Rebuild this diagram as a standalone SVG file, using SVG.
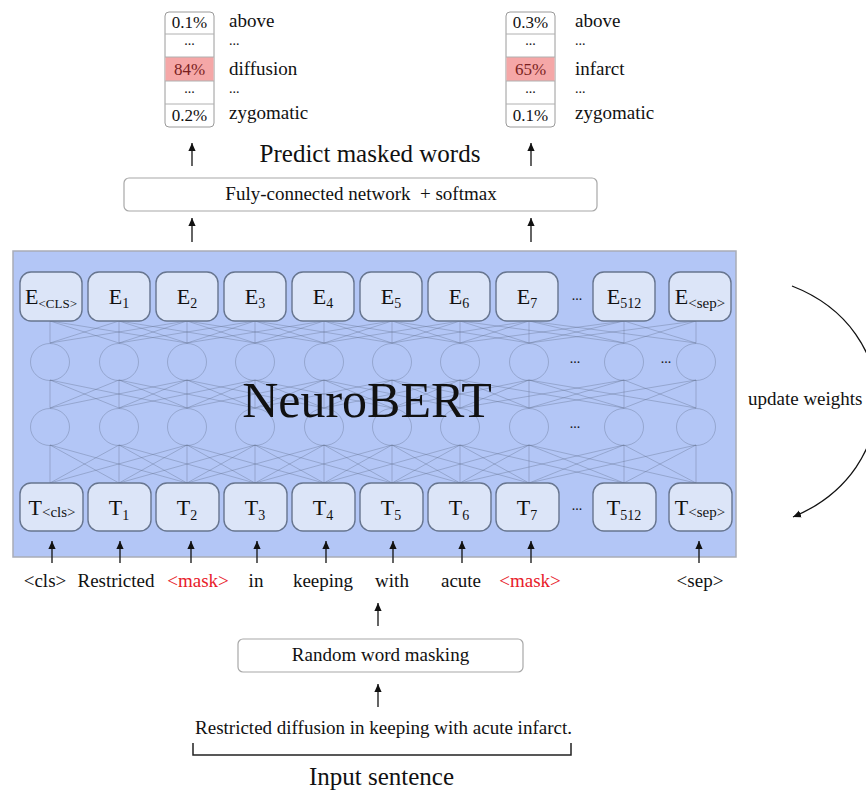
<svg xmlns="http://www.w3.org/2000/svg" width="866" height="791" viewBox="0 0 866 791">
<defs>
<marker id="ah" viewBox="0 0 10 10" refX="10" refY="5" markerWidth="8" markerHeight="8" orient="auto" markerUnits="userSpaceOnUse"><path d="M0,0.5 L10,5 L0,9.5 z" fill="#111"/></marker>
<style>
text{font-family:"Liberation Serif","Times New Roman",serif;fill:#111}
.w{font-size:19px}
.p{font-size:17px;text-anchor:middle}
.c{text-anchor:middle}
.box{fill:#dce5f8;stroke:#67758f;stroke-width:1.4}
.lbl{font-size:22px;text-anchor:middle}
.sub{font-size:14px}
.net{fill:none;stroke:#5d6a88;stroke-opacity:0.35;stroke-width:1}
.cir{fill:none;stroke:#5d6a88;stroke-opacity:0.35;stroke-width:1}
.arr{stroke:#111;stroke-width:1.3;fill:none;marker-end:url(#ah)}
.tbl{fill:#fff;stroke:#9a9a9a;stroke-width:1}
.sep{stroke:#b0b0b0;stroke-width:1}
.red{fill:#e8202a}
.dots{font-size:14px;text-anchor:middle}
.td{font-size:14px}
</style>
</defs>
<rect width="866" height="791" fill="#fff"/>

<!-- NeuroBERT block -->
<g id="neurobert">
<rect x="13" y="251" width="723" height="306" fill="#b3c6f6" stroke="#a9acb6" stroke-width="1.5"/>
<g id="network-lines">
<path class="net" d="M50 321L50 343M50 321L119 343M50 321L187 343M119 321L50 343M119 321L119 343M119 321L187 343M119 321L255 343M187 321L50 343M187 321L119 343M187 321L187 343M187 321L255 343M187 321L324 343M255 321L119 343M255 321L187 343M255 321L255 343M255 321L324 343M255 321L392 343M324 321L187 343M324 321L255 343M324 321L324 343M324 321L392 343M324 321L460 343M392 321L255 343M392 321L324 343M392 321L392 343M392 321L460 343M392 321L529 343M460 321L324 343M460 321L392 343M460 321L460 343M460 321L529 343M460 321L624 343M529 321L392 343M529 321L460 343M529 321L529 343M529 321L624 343M529 321L696 343M624 321L460 343M624 321L529 343M624 321L624 343M624 321L696 343M696 321L529 343M696 321L624 343M696 321L696 343"/>
<path class="net" d="M50 380L50 408M50 380L119 408M50 380L187 408M119 380L50 408M119 380L119 408M119 380L187 408M119 380L255 408M187 380L50 408M187 380L119 408M187 380L187 408M187 380L255 408M187 380L324 408M255 380L119 408M255 380L187 408M255 380L255 408M255 380L324 408M255 380L392 408M324 380L187 408M324 380L255 408M324 380L324 408M324 380L392 408M324 380L460 408M392 380L255 408M392 380L324 408M392 380L392 408M392 380L460 408M392 380L529 408M460 380L324 408M460 380L392 408M460 380L460 408M460 380L529 408M460 380L624 408M529 380L392 408M529 380L460 408M529 380L529 408M529 380L624 408M529 380L696 408M624 380L460 408M624 380L529 408M624 380L624 408M624 380L696 408M696 380L529 408M696 380L624 408M696 380L696 408"/>
<path class="net" d="M50 445L50 483M50 445L119 483M50 445L187 483M119 445L50 483M119 445L119 483M119 445L187 483M119 445L255 483M187 445L50 483M187 445L119 483M187 445L187 483M187 445L255 483M187 445L324 483M255 445L119 483M255 445L187 483M255 445L255 483M255 445L324 483M255 445L392 483M324 445L187 483M324 445L255 483M324 445L324 483M324 445L392 483M324 445L460 483M392 445L255 483M392 445L324 483M392 445L392 483M392 445L460 483M392 445L529 483M460 445L324 483M460 445L392 483M460 445L460 483M460 445L529 483M460 445L624 483M529 445L392 483M529 445L460 483M529 445L529 483M529 445L624 483M529 445L696 483M624 445L460 483M624 445L529 483M624 445L624 483M624 445L696 483M696 445L529 483M696 445L624 483M696 445L696 483"/>
</g>
<g id="hidden-layer-1">
<ellipse class="cir" cx="50" cy="362" rx="19.5" ry="18.5"/>
<ellipse class="cir" cx="119" cy="362" rx="19.5" ry="18.5"/>
<ellipse class="cir" cx="187" cy="362" rx="19.5" ry="18.5"/>
<ellipse class="cir" cx="255" cy="362" rx="19.5" ry="18.5"/>
<ellipse class="cir" cx="324" cy="362" rx="19.5" ry="18.5"/>
<ellipse class="cir" cx="392" cy="362" rx="19.5" ry="18.5"/>
<ellipse class="cir" cx="460" cy="362" rx="19.5" ry="18.5"/>
<ellipse class="cir" cx="529" cy="362" rx="19.5" ry="18.5"/>
<ellipse class="cir" cx="624" cy="362" rx="19.5" ry="18.5"/>
<ellipse class="cir" cx="696" cy="362" rx="19.5" ry="18.5"/>
<text class="dots" x="575" y="363">...</text>
<text class="dots" x="666" y="363">...</text>
</g>
<g id="hidden-layer-2">
<ellipse class="cir" cx="50" cy="427" rx="19.5" ry="18.5"/>
<ellipse class="cir" cx="119" cy="427" rx="19.5" ry="18.5"/>
<ellipse class="cir" cx="187" cy="427" rx="19.5" ry="18.5"/>
<ellipse class="cir" cx="255" cy="427" rx="19.5" ry="18.5"/>
<ellipse class="cir" cx="324" cy="427" rx="19.5" ry="18.5"/>
<ellipse class="cir" cx="392" cy="427" rx="19.5" ry="18.5"/>
<ellipse class="cir" cx="460" cy="427" rx="19.5" ry="18.5"/>
<ellipse class="cir" cx="529" cy="427" rx="19.5" ry="18.5"/>
<ellipse class="cir" cx="624" cy="427" rx="19.5" ry="18.5"/>
<ellipse class="cir" cx="696" cy="427" rx="19.5" ry="18.5"/>
<text class="dots" x="575" y="428">...</text>
</g>
<text x="367" y="417" font-size="50" text-anchor="middle">NeuroBERT</text>
</g>

<!-- E row -->
<g id="E_cls"><rect class="box" x="20" y="272" width="62" height="49" rx="11"/><text class="lbl" x="51" y="304">E<tspan font-size="13" dy="4">&lt;CLS&gt;</tspan></text></g>
<g id="E_1"><rect class="box" x="88" y="272" width="62" height="49" rx="11"/><text class="lbl" x="119" y="304">E<tspan class="sub" dy="4">1</tspan></text></g>
<g id="E_2"><rect class="box" x="156" y="272" width="62" height="49" rx="11"/><text class="lbl" x="187" y="304">E<tspan class="sub" dy="4">2</tspan></text></g>
<g id="E_3"><rect class="box" x="224" y="272" width="62" height="49" rx="11"/><text class="lbl" x="255" y="304">E<tspan class="sub" dy="4">3</tspan></text></g>
<g id="E_4"><rect class="box" x="292" y="272" width="62" height="49" rx="11"/><text class="lbl" x="323" y="304">E<tspan class="sub" dy="4">4</tspan></text></g>
<g id="E_5"><rect class="box" x="360" y="272" width="62" height="49" rx="11"/><text class="lbl" x="391" y="304">E<tspan class="sub" dy="4">5</tspan></text></g>
<g id="E_6"><rect class="box" x="428" y="272" width="62" height="49" rx="11"/><text class="lbl" x="459" y="304">E<tspan class="sub" dy="4">6</tspan></text></g>
<g id="E_7"><rect class="box" x="496" y="272" width="62" height="49" rx="11"/><text class="lbl" x="527" y="304">E<tspan class="sub" dy="4">7</tspan></text></g>
<text class="dots" x="577" y="300">...</text>
<g id="E_512"><rect class="box" x="593" y="272" width="62" height="49" rx="11"/><text class="lbl" x="624" y="304">E<tspan class="sub" dy="4">512</tspan></text></g>
<g id="E_sep"><rect class="box" x="669" y="272" width="62" height="49" rx="11"/><text class="lbl" x="700" y="304">E<tspan font-size="15" dy="4">&lt;sep&gt;</tspan></text></g>

<!-- T row -->
<g id="T_cls"><rect class="box" x="20" y="483" width="63" height="48" rx="11"/><text class="lbl" x="52" y="515">T<tspan font-size="15" dy="2">&lt;cls&gt;</tspan></text></g>
<g id="T_1"><rect class="box" x="88" y="483" width="63" height="48" rx="11"/><text class="lbl" x="119" y="515">T<tspan class="sub" dy="5">1</tspan></text></g>
<g id="T_2"><rect class="box" x="156" y="483" width="63" height="48" rx="11"/><text class="lbl" x="187" y="515">T<tspan class="sub" dy="5">2</tspan></text></g>
<g id="T_3"><rect class="box" x="224" y="483" width="63" height="48" rx="11"/><text class="lbl" x="255" y="515">T<tspan class="sub" dy="5">3</tspan></text></g>
<g id="T_4"><rect class="box" x="292" y="483" width="63" height="48" rx="11"/><text class="lbl" x="323" y="515">T<tspan class="sub" dy="5">4</tspan></text></g>
<g id="T_5"><rect class="box" x="360" y="483" width="63" height="48" rx="11"/><text class="lbl" x="391" y="515">T<tspan class="sub" dy="5">5</tspan></text></g>
<g id="T_6"><rect class="box" x="428" y="483" width="63" height="48" rx="11"/><text class="lbl" x="459" y="515">T<tspan class="sub" dy="5">6</tspan></text></g>
<g id="T_7"><rect class="box" x="496" y="483" width="63" height="48" rx="11"/><text class="lbl" x="527" y="515">T<tspan class="sub" dy="5">7</tspan></text></g>
<text class="dots" x="577" y="510">...</text>
<g id="T_512"><rect class="box" x="593" y="483" width="63" height="48" rx="11"/><text class="lbl" x="624" y="515">T<tspan class="sub" dy="5">512</tspan></text></g>
<g id="T_sep"><rect class="box" x="669" y="483" width="63" height="48" rx="11"/><text class="lbl" x="700" y="515">T<tspan font-size="15" dy="2">&lt;sep&gt;</tspan></text></g>

<!-- input tokens -->
<g id="tokens" class="w">
<text class="c" x="45" y="587">&lt;cls&gt;</text>
<text class="c" x="116" y="587">Restricted</text>
<text class="c red" x="198" y="587">&lt;mask&gt;</text>
<text class="c" x="256" y="587">in</text>
<text class="c" x="323" y="587">keeping</text>
<text class="c" x="392" y="587">with</text>
<text class="c" x="461" y="587">acute</text>
<text class="c red" x="530" y="587">&lt;mask&gt;</text>
<text class="c" x="700" y="587">&lt;sep&gt;</text>
</g>

<!-- FC network -->
<g id="fc">
<rect x="124" y="178" width="473" height="33" rx="5" fill="#fff" stroke="#a8a8a8" stroke-width="1.2"/>
<text class="w c" x="361" y="200" xml:space="preserve">Fuly-connected network  + softmax</text>
</g>
<text id="predict-label" x="370" y="162" font-size="25" text-anchor="middle">Predict masked words</text>

<!-- left prob table -->
<g id="table-left">
<rect class="tbl" x="165" y="12" width="49" height="115" rx="4"/>
<rect x="165.5" y="57" width="48" height="24" fill="#f5a7a7"/>
<line class="sep" x1="165" y1="34" x2="214" y2="34"/>
<line class="sep" x1="165" y1="57" x2="214" y2="57"/>
<line class="sep" x1="165" y1="81" x2="214" y2="81"/>
<line class="sep" x1="165" y1="104" x2="214" y2="104"/>
<text class="p" x="189.5" y="28">0.1%</text>
<text class="p td" x="189.5" y="45">...</text>
<text class="p" x="189.5" y="75" style="fill:#7a1f1f">84%</text>
<text class="p td" x="189.5" y="93">...</text>
<text class="p" x="189.5" y="121">0.2%</text>
<text class="w" x="229" y="27">above</text>
<text class="td" x="229" y="45">...</text>
<text class="w" x="229" y="75">diffusion</text>
<text class="td" x="229" y="93">...</text>
<text class="w" x="229" y="119">zygomatic</text>
</g>

<!-- right prob table -->
<g id="table-right">
<rect class="tbl" x="506" y="12" width="49" height="115" rx="4"/>
<rect x="506.5" y="57" width="48" height="24" fill="#f5a7a7"/>
<line class="sep" x1="506" y1="34" x2="555" y2="34"/>
<line class="sep" x1="506" y1="57" x2="555" y2="57"/>
<line class="sep" x1="506" y1="81" x2="555" y2="81"/>
<line class="sep" x1="506" y1="104" x2="555" y2="104"/>
<text class="p" x="530.5" y="28">0.3%</text>
<text class="p td" x="530.5" y="45">...</text>
<text class="p" x="530.5" y="75" style="fill:#7a1f1f">65%</text>
<text class="p td" x="530.5" y="93">...</text>
<text class="p" x="530.5" y="121">0.1%</text>
<text class="w" x="575" y="27">above</text>
<text class="td" x="575" y="45">...</text>
<text class="w" x="575" y="75">infarct</text>
<text class="td" x="575" y="93">...</text>
<text class="w" x="575" y="119">zygomatic</text>
</g>

<!-- masking -->
<g id="masking">
<rect x="238" y="639" width="285" height="33" rx="5" fill="#fff" stroke="#a8a8a8" stroke-width="1.2"/>
<text class="w c" x="380.5" y="661">Random word masking</text>
</g>
<g id="sentence">
<text class="w c" x="383.5" y="734">Restricted diffusion in keeping with acute infarct.</text>
<path d="M193 743V755H571V743" fill="none" stroke="#222" stroke-width="1.5"/>
<text class="c" x="381.5" y="785" font-size="25">Input sentence</text>
</g>

<text id="update-label" class="w" x="748" y="405">update weights</text>

<!-- connectors -->
<g id="connectors">
<line class="arr" x1="192" y1="166" x2="192" y2="143"/>
<line class="arr" x1="531" y1="166" x2="531" y2="143"/>
<line class="arr" x1="192" y1="242" x2="192" y2="218"/>
<line class="arr" x1="531" y1="242" x2="531" y2="218"/>
<line class="arr" x1="52" y1="563" x2="52" y2="541"/>
<line class="arr" x1="120" y1="563" x2="120" y2="541"/>
<line class="arr" x1="191" y1="563" x2="191" y2="541"/>
<line class="arr" x1="257" y1="563" x2="257" y2="541"/>
<line class="arr" x1="326" y1="563" x2="326" y2="541"/>
<line class="arr" x1="393" y1="563" x2="393" y2="541"/>
<line class="arr" x1="462" y1="563" x2="462" y2="541"/>
<line class="arr" x1="531" y1="563" x2="531" y2="541"/>
<line class="arr" x1="699" y1="563" x2="699" y2="541"/>
<line class="arr" x1="378" y1="626" x2="378" y2="603"/>
<line class="arr" x1="378" y1="707" x2="378" y2="684"/>
<path class="arr" d="M792 286C905 330 905 470 793 517" stroke-width="1.6"/>
</g>
</svg>
